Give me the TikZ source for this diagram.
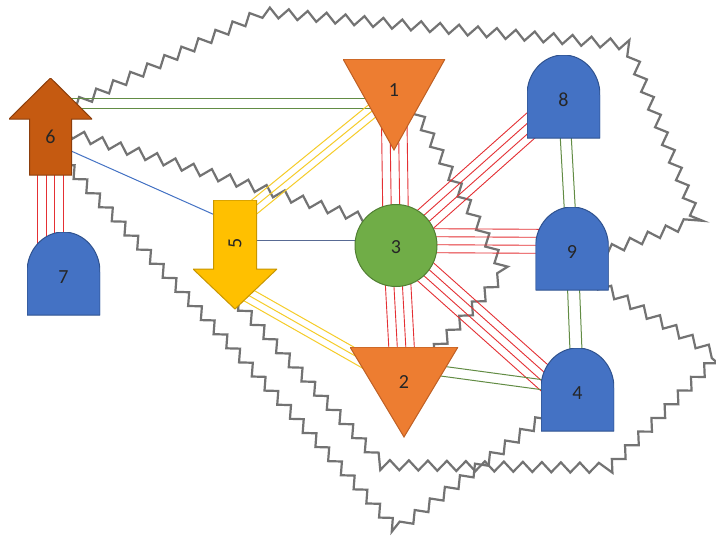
\documentclass[tikz,border=0pt]{standalone}
\usepackage{fontspec}
\setmainfont{Carlito}
\usetikzlibrary{calc,backgrounds,decorations.pathmorphing}
\definecolor{bc}{RGB}{68,114,196}
\definecolor{bd}{RGB}{47,82,143}
\definecolor{oc}{RGB}{237,125,49}
\definecolor{od}{RGB}{190,95,35}
\definecolor{yc}{RGB}{255,192,0}
\definecolor{yd}{RGB}{200,150,0}
\definecolor{gc}{RGB}{112,173,71}
\definecolor{gd}{RGB}{80,126,50}
\definecolor{brc}{RGB}{197,90,17}
\definecolor{brd}{RGB}{140,62,12}
\definecolor{zc}{RGB}{115,115,115}
\definecolor{rl}{RGB}{228,48,52}
\definecolor{gl}{RGB}{98,140,68}
\definecolor{yl}{RGB}{246,204,40}
\definecolor{sl}{RGB}{88,106,148}
\newcommand\numat[2]{\smash{\raisebox{#1}{#2}}}
% parallel wires between two named points
\newcommand\bundle[4]{\foreach \off in {#4}
  \draw[#1] ($(#2)!\off!90:(#3)$) -- ($(#3)!\off!-90:(#2)$);}
\tikzset{every node/.style={font=\fontsize{20}{24}\selectfont,inner sep=0pt,text=black!85},
 dome/.style={minimum width=73pt,minimum height=83pt,
  path picture={\filldraw[fill=bc,draw=bd,line width=1pt]
   (path picture bounding box.south west)--([yshift=-40pt]path picture bounding box.north west)
   arc[start angle=180,end angle=0,x radius=36.5pt,y radius=40pt]
   --(path picture bounding box.south east)--cycle;}},
 tri/.style 2 args={minimum width=#1,minimum height=#2,
  path picture={\filldraw[fill=oc,draw=od,line width=1pt]
   (path picture bounding box.north west)--(path picture bounding box.north east)
   --(path picture bounding box.south)--cycle;}},
 uparr/.style={minimum width=83pt,minimum height=97pt,
  path picture={\filldraw[fill=brc,draw=brd,line width=1pt]
   (path picture bounding box.north)--([yshift=-41pt]path picture bounding box.north east)
   --([xshift=21pt,yshift=-41pt]path picture bounding box.north)--([xshift=21pt]path picture bounding box.south)
   --([xshift=-21pt]path picture bounding box.south)--([xshift=-21pt,yshift=-41pt]path picture bounding box.north)
   --([yshift=-41pt]path picture bounding box.north west)--cycle;}},
 dnarr/.style={minimum width=84pt,minimum height=109pt,
  path picture={\filldraw[fill=yc,draw=yd,line width=1pt]
   (path picture bounding box.south)--([yshift=40pt]path picture bounding box.south east)
   --([xshift=21.5pt,yshift=40pt]path picture bounding box.south)--([xshift=21.5pt]path picture bounding box.north)
   --([xshift=-21.5pt]path picture bounding box.north)--([xshift=-21.5pt,yshift=40pt]path picture bounding box.south)
   --([yshift=40pt]path picture bounding box.south west)--cycle;}},
 ball/.style={circle,minimum size=82pt,fill=gc,draw=gd,line width=1pt},
 redw/.style={draw=rl,line width=.9pt},
 grnw/.style={draw=gl,line width=1pt},
 yelw/.style={draw=yl,line width=1pt},
 bluw/.style={draw=bc,line width=1pt},
 slw/.style={draw=sl,line width=1.1pt},
 zz/.style={draw=zc,line width=2.2pt,line join=miter,decorate,
  decoration={zigzag,segment length=19pt,amplitude=5pt}}}
\begin{document}
\begin{tikzpicture}[x=1pt,y=-1pt]
\useasboundingbox (0,0) rectangle (716,538);
\node[uparr] (n6) at (50.5,126.5) {\numat{-17pt}{6}};
\node[dome] (n7) at (63.5,273.5) {\numat{-10pt}{7}};
\node[dnarr] (n5) at (235,254.5) {\numat{5pt}{\rotatebox[origin=c]{90}{5}}};
\node[tri={102pt}{91pt}] (n1) at (394,104.5) {\numat{8pt}{1}};
\node[ball] (n3) at (396,245.5) {\numat{-8pt}{3}};
\node[tri={108pt}{90pt}] (n2) at (404,392) {\numat{3.5pt}{2}};
\node[dome] (n8) at (563.5,96.5) {\numat{-10pt}{8}};
\node[dome] (n9) at (572,248.5) {\numat{-10pt}{9}};
\node[dome] (n4) at (577.5,389.5) {\numat{-10pt}{4}};
% wire ends that are off centre
\coordinate (n6h) at ($(n6)+(0,-23)$);
\coordinate (n1h) at ($(n1)+(0,-1)$);
\coordinate (n7t) at (n6 |- n7);
\coordinate (n6b) at ($(n6)+(15,22)$);
\coordinate (n5b) at ($(n5)+(-10,-35)$);
\coordinate (n5r) at ($(n5)+(0,-14)$);
\coordinate (n3l) at ($(n3)+(0,-5)$);
\coordinate (n5t) at ($(n5)+(10,-40)$);
\coordinate (n1y) at ($(n1)+(-9,-4)$);
\coordinate (n5d) at ($(n5)+(5,36)$);
\coordinate (n2y) at ($(n2)+(-24,-22)$);
\coordinate (n2g) at ($(n2)+(0,-26)$);
\coordinate (n9l) at ($(n9)+(0,-7)$);
\coordinate (n4l) at ($(n4)+(-20,0)$);
\begin{scope}[on background layer]
\fill[white] (0,0) rectangle (716,538);
% zigzag outlines
\draw[zz] (60,112)--(263,12)--(628,45)--(697,220)--(575,262);
\draw[zz] (60,130)--(396,228);
\draw[zz] (400,82)--(505,272)--(420,367);
\draw[zz] (572,268)--(718,356)--(610,468)--(383,465)--(228,292);
\draw[zz] (55,151)--(397,530)--(575,393);
% wires
\bundle{redw}{n6}{n7t}{-12.75pt,-4.25pt,4.25pt,12.75pt}
\bundle{grnw}{n6h}{n1h}{-5pt,5pt}
\bundle{bluw}{n6b}{n5b}{0pt}
\bundle{slw}{n5r}{n3l}{0pt}
\bundle{yelw}{n5t}{n1y}{-7pt,0pt,7pt}
\bundle{yelw}{n5d}{n2y}{-7pt,0pt,7pt}
\bundle{redw}{n1}{n3}{-12.75pt,-4.25pt,4.25pt,12.75pt}
\bundle{redw}{n3}{n2}{-12.75pt,-4.25pt,4.25pt,12.75pt}
\bundle{redw}{n3}{n8}{-12pt,-4pt,4pt,12pt}
\bundle{redw}{n3l}{n9l}{-12pt,-4pt,4pt,12pt}
\bundle{redw}{n3}{n4l}{-12pt,-4pt,4pt,12pt}
\bundle{grnw}{n8}{n9}{-5.5pt,5.5pt}
\bundle{grnw}{n9}{n4}{-6pt,6pt}
\bundle{grnw}{n2g}{n4}{-5pt,5pt}
\end{scope}
\end{tikzpicture}
\end{document}
